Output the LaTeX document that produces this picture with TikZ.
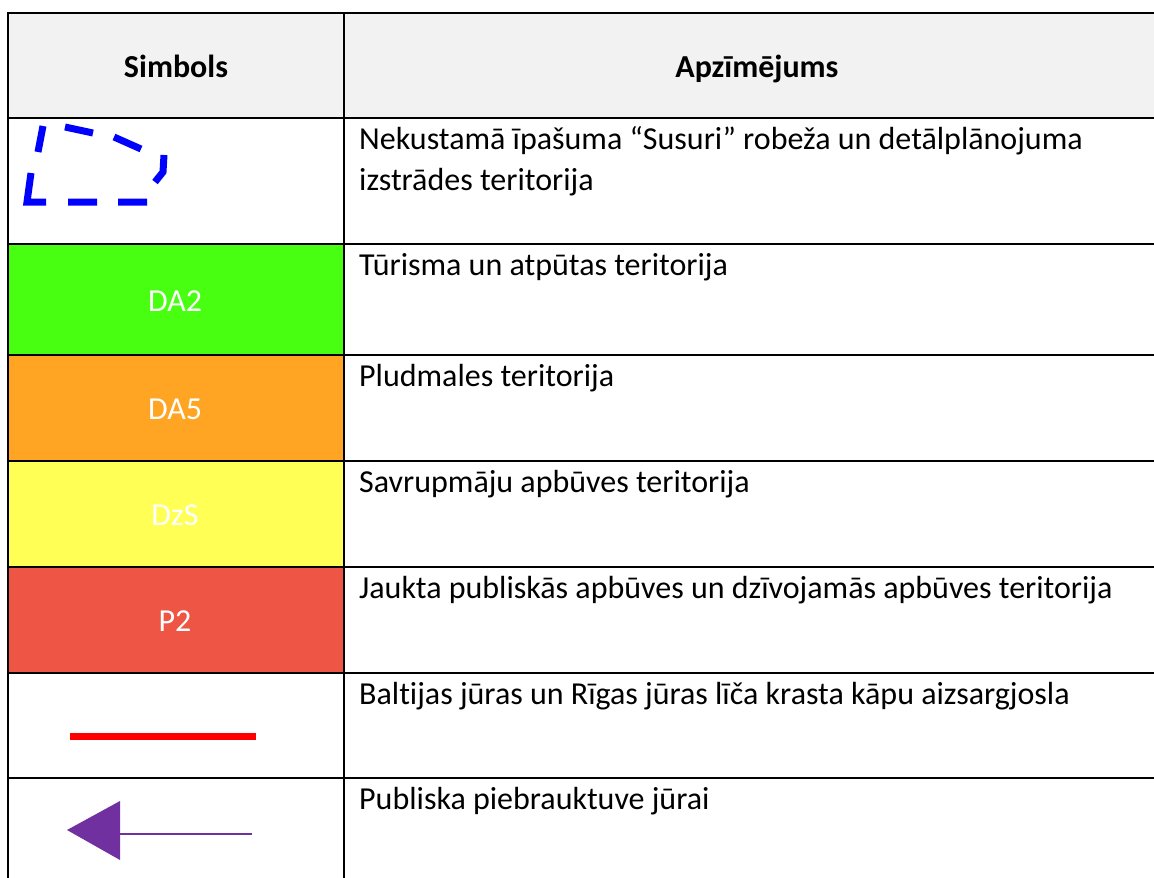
\documentclass[tikz,border=0pt]{standalone}
\usepackage{fontspec}
\setmainfont[Ligatures={NoCommon}]{Carlito}
\definecolor{hdrgray}{HTML}{F2F2F2}
\definecolor{cgreen}{HTML}{48FF12}
\definecolor{corange}{HTML}{FFA523}
\definecolor{cyellow}{HTML}{FFFF55}
\definecolor{cred}{HTML}{EF5545}
\definecolor{cpurple}{HTML}{7030A0}
\begin{document}
\begin{tikzpicture}[x=1pt,y=-1pt,
  txt/.style={anchor=base west, inner sep=0pt, font=\fontsize{32}{38}\selectfont, text=black},
  lbl/.style={anchor=base, inner sep=0pt, font=\fontsize{32}{38}\selectfont, text=white},
  hdr/.style={anchor=base, inner sep=0pt, font=\fontsize{32}{38}\selectfont\bfseries, text=black},
  gridline/.style={line width=2.4pt, black},
  bluedash/.style={line width=7pt, blue, line cap=butt, line join=miter}]
\useasboundingbox (0,0) rectangle (1154,878);
% fills
\fill[hdrgray] (8,13) rectangle (1154,118);
\fill[cgreen] (8,244) rectangle (344,355);
\fill[corange] (8,355) rectangle (344,461);
\fill[cyellow] (8,461) rectangle (344,567);
\fill[cred] (8,567) rectangle (344,673);
% grid
\draw[gridline] (8,878) -- (8,13) -- (1154,13);
\draw[gridline] (344,13) -- (344,878);
\foreach \yy in {118,244,355,461,567,673,778}
  \draw[gridline] (8,\yy) -- (1154,\yy);
% header
\node[hdr] (hs) at (176,77) {Simbols};
\node[hdr] (ha) at (757,77) {Apzīmējums};
% symbols
\draw[bluedash] (43,126) -- (38,152)
  (31,173) -- (27,202) -- (46,202)
  (68,202) -- (97,202)
  (118,202) -- (147,202)
  (155,182) -- (163,172) -- (164,155)
  (141,149) -- (114,137)
  (93,133) -- (65,127);
\node[lbl] (l1) at (175,311) {DA2};
\node[lbl] (l2) at (175,419) {DA5};
\node[lbl] (l3) at (175,525) {DzS};
\node[lbl] (l4) at (175,631) {P2};
\draw[line width=7pt, red] (70,736.5) -- (256,736.5);
\fill[cpurple] (67,830) -- (120,801) -- (120,860) -- cycle;
\draw[line width=2pt, cpurple] (120,834) -- (252,834);
% descriptions
\node[txt] (d1a) at (359,149) {Nekustamā īpašuma “Susuri” robeža un detālplānojuma};
\node[txt] (d1b) at (359,190) {izstrādes teritorija};
\node[txt] (d2) at (359,275) {Tūrisma un atpūtas teritorija};
\node[txt] (d3) at (359,386) {Pludmales teritorija};
\node[txt] (d4) at (359,492) {Savrupmāju apbūves teritorija};
\node[txt] (d5) at (359,598) {Jaukta publiskās apbūves un dzīvojamās apbūves teritorija};
\node[txt] (d6) at (359,704) {Baltijas jūras un Rīgas jūras līča krasta kāpu aizsargjosla};
\node[txt] (d7) at (359,809) {Publiska piebrauktuve jūrai};
\end{tikzpicture}
\end{document}
